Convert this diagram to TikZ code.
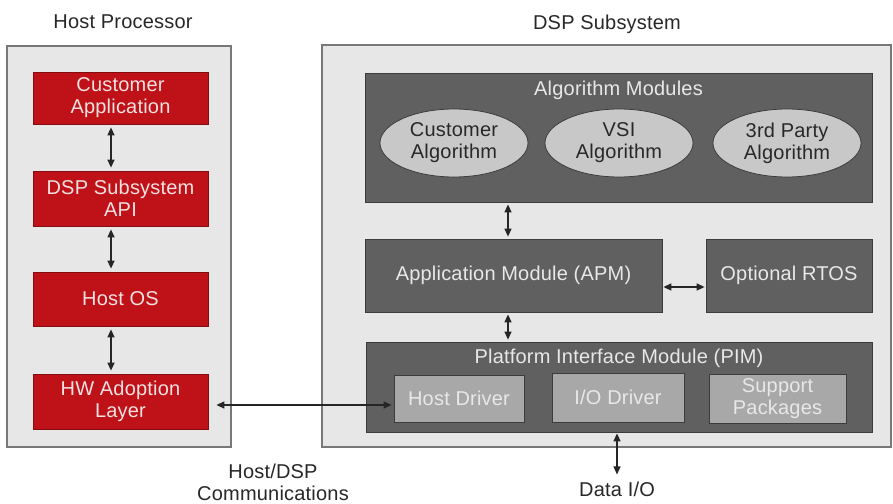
\documentclass[tikz,border=0pt]{standalone}
\usepackage{fontspec}
\setmainfont{Liberation Sans}[LetterSpace=1]
\usetikzlibrary{arrows.meta,shapes.geometric}
\definecolor{hostred}{RGB}{190,18,24}
\definecolor{redtext}{RGB}{245,225,225}
\definecolor{panel}{RGB}{231,231,231}
\definecolor{panelborder}{RGB}{120,120,120}
\definecolor{darkbox}{RGB}{96,96,96}
\definecolor{darkborder}{RGB}{60,60,60}
\definecolor{ellfill}{RGB}{200,200,200}
\definecolor{drvfill}{RGB}{168,168,168}
\definecolor{lighttext}{RGB}{232,232,232}
\definecolor{inktext}{RGB}{40,40,40}
\tikzset{
  txt/.style={font=\fontsize{20}{22}\selectfont, align=center, inner sep=0pt},
  panelbox/.style={draw=panelborder, fill=panel, line width=1.2pt, inner sep=0pt},
  redbox/.style={txt, draw=hostred!70!black, fill=hostred, text=redtext, line width=0.8pt},
  darkblock/.style={txt, draw=darkborder, fill=darkbox, text=lighttext, line width=0.8pt},
  algell/.style={txt, ellipse, draw=darkborder, fill=ellfill, text=inktext, line width=0.8pt, minimum width=148pt, minimum height=68pt},
  drvbox/.style={txt, draw=darkborder, fill=drvfill, text=lighttext, line width=0.8pt},
  title/.style={txt, text=inktext},
  link/.style={{Triangle[width=7pt,length=8pt]}-{Triangle[width=7pt,length=8pt]}, line width=1.3pt, black!85},
}
\begin{document}
\begin{tikzpicture}[x=1pt,y=-1pt]
\useasboundingbox[fill=white] (0,0) rectangle (893,503);
% titles
\node[title] (thost) at (123,22) {Host Processor};
\node[title] (tdsp) at (607,24) {DSP Subsystem};
% panels
\node[panelbox, minimum width=224pt, minimum height=401pt] (host) at (119,246.5) {};
\node[panelbox, minimum width=569pt, minimum height=402pt] (dsp) at (606.5,246) {};
% host stack
\node[redbox, minimum width=175pt, minimum height=52pt] (ca) at (120.5,98) {Customer\\Application};
\node[redbox, minimum width=175pt, minimum height=55pt] (api) at (120.5,198.5) {DSP Subsystem\\API};
\node[redbox, minimum width=175pt, minimum height=54pt] (os) at (120.5,299) {Host OS};
\node[redbox, minimum width=175pt, minimum height=55pt] (hw) at (120.5,401.5) {HW Adoption\\Layer};
% DSP blocks
\node[darkblock, minimum width=507pt, minimum height=129pt] (alg) at (618.5,137.5) {};
\node[txt, text=lighttext] (algt) at (618.5,90) {Algorithm Modules};
\node[algell] (cust) at (454,143) {Customer\\Algorithm};
\node[algell] (vsi) at (619,143) {VSI\\Algorithm};
\node[algell] (third) at (787,143) {3rd Party\\Algorithm};
\node[darkblock, minimum width=297pt, minimum height=73pt] (apm) at (513.5,275.5) {Application Module (APM)};
\node[darkblock, minimum width=166pt, minimum height=73pt] (rtos) at (789,275.5) {Optional RTOS};
\node[darkblock, minimum width=506pt, minimum height=90pt] (pim) at (619,387) {};
\node[txt, text=lighttext] (pimt) at (619,358) {Platform Interface Module (PIM)};
\node[drvbox, minimum width=130pt, minimum height=47pt] (hd) at (459,398.5) {Host Driver};
\node[drvbox, minimum width=132pt, minimum height=49pt] (iod) at (618,397.5) {I/O Driver};
\node[drvbox, minimum width=137pt, minimum height=49pt] (sp) at (777.5,398.5) {Support\\Packages};
% bottom labels
\node[title] (comm) at (273,482) {Host/DSP\\Communications};
\node[title] (dio) at (617,489) {Data I/O};
% connectors
\draw[link, shorten <=3pt, shorten >=3pt] ([xshift=-9.5pt]ca.south) -- ([xshift=-9.5pt]api.north);
\draw[link, shorten <=3pt, shorten >=3pt] ([xshift=-9.5pt]api.south) -- ([xshift=-9.5pt]os.north);
\draw[link, shorten <=3pt, shorten >=3pt] ([xshift=-9.5pt]os.south) -- ([xshift=-9.5pt]hw.north);
\draw[link, shorten <=2pt, shorten >=2pt] ([xshift=-5.5pt]apm.north |- alg.south) -- ([xshift=-5.5pt]apm.north);
\draw[link, shorten <=2pt, shorten >=2pt] ([xshift=-5.5pt]apm.south) -- ([xshift=-5.5pt]apm.south |- pim.north);
\draw[link, shorten <=1pt, shorten >=1pt] ([yshift=-11.5pt]apm.east) -- ([yshift=-11.5pt]rtos.west);
\draw[link, shorten <=8pt, shorten >=2pt] ([yshift=-3.5pt]hw.east) -- ([yshift=-6.5pt]hd.west);
\draw[link, shorten <=1pt, shorten >=7pt] ([xshift=-2pt]pim.south) -- ([xshift=-2pt]pim.south |- dio.north);
\end{tikzpicture}
\end{document}
